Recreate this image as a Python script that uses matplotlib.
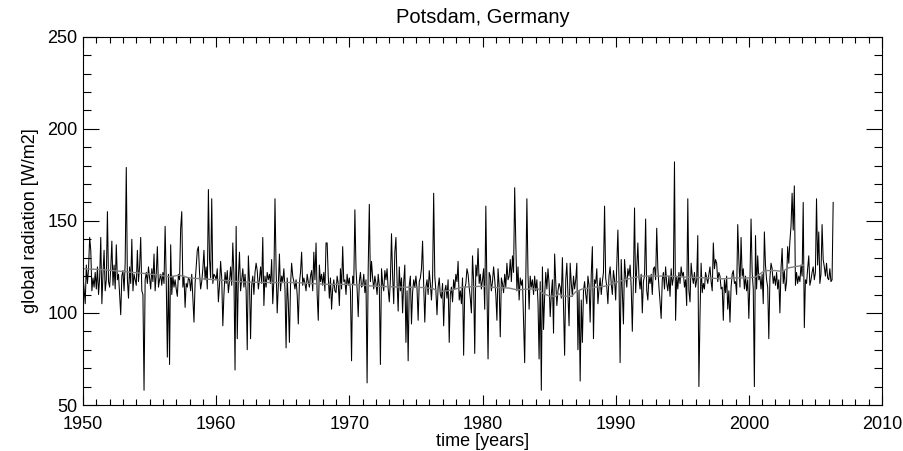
import numpy as np
import matplotlib
matplotlib.use("Agg")
import matplotlib.pyplot as plt
from matplotlib.ticker import MultipleLocator

plt.rcParams['font.family'] = ['Liberation Sans', 'DejaVu Sans']

# monthly global radiation, Potsdam (W/m2), Jan 1950 - May 2006, one row per year
radiation = [
    120, 113, 105, 126, 116, 124, 141, 134, 112, 119, 114, 122,  # 1950
    113, 125, 110, 119, 141, 105, 121, 134, 112, 118, 155, 117,  # 1951
    114, 124, 139, 115, 126, 113, 137, 118, 121, 110, 99, 120,   # 1952
    123, 112, 127, 179, 118, 108, 125, 116, 140, 112, 121, 118,  # 1953
    115, 134, 117, 125, 141, 112, 110, 58, 118, 122, 116, 125,   # 1954
    119, 113, 124, 117, 132, 112, 121, 136, 114, 118, 121, 115,  # 1955
    122, 116, 147, 118, 76, 121, 72, 137, 110, 120, 114, 118,    # 1956
    113, 109, 121, 118, 146, 155, 114, 120, 103, 116, 114, 119,  # 1957
    118, 112, 121, 108, 95, 116, 125, 134, 136, 122, 113, 117,   # 1958
    124, 134, 118, 125, 113, 167, 129, 119, 162, 116, 121, 120,  # 1959
    118, 124, 106, 115, 128, 119, 93, 110, 122, 116, 123, 111,   # 1960
    117, 125, 115, 138, 121, 69, 147, 86, 119, 133, 112, 118,    # 1961
    124, 114, 121, 112, 80, 131, 117, 86, 115, 120, 110, 122,    # 1962
    127, 123, 113, 118, 125, 116, 141, 104, 120, 114, 122, 118,  # 1963
    121, 116, 129, 105, 118, 162, 124, 100, 115, 132, 112, 120,  # 1964
    117, 124, 113, 81, 119, 106, 84, 115, 127, 120, 117, 113,    # 1965
    118, 110, 94, 116, 122, 133, 115, 119, 116, 112, 121, 117,   # 1966
    114, 120, 123, 112, 133, 118, 138, 110, 96, 126, 117, 121,   # 1967
    115, 122, 112, 138, 138, 120, 108, 119, 102, 113, 118, 112,  # 1968
    111, 120, 116, 104, 124, 113, 136, 117, 118, 110, 121, 115,  # 1969
    119, 112, 74, 120, 116, 156, 124, 113, 98, 117, 122, 114,    # 1970
    115, 121, 111, 118, 62, 124, 159, 117, 128, 119, 113, 120,   # 1971
    116, 110, 121, 115, 72, 124, 116, 112, 123, 118, 124, 113,   # 1972
    106, 118, 143, 120, 105, 133, 141, 117, 101, 125, 112, 119,  # 1973
    100, 117, 126, 84, 112, 74, 115, 120, 94, 111, 118, 114,     # 1974
    120, 113, 96, 117, 119, 124, 139, 115, 95, 114, 118, 110,    # 1975
    123, 116, 107, 118, 165, 120, 112, 99, 114, 119, 110, 108,   # 1976
    116, 93, 112, 115, 108, 118, 84, 110, 114, 106, 118, 113,    # 1977
    121, 117, 128, 107, 112, 105, 119, 77, 113, 116, 124, 121,   # 1978
    114, 108, 100, 131, 117, 78, 126, 120, 135, 116, 121, 113,   # 1979
    118, 124, 102, 158, 113, 75, 122, 120, 112, 117, 125, 118,   # 1980
    110, 96, 124, 115, 87, 119, 116, 111, 121, 114, 127, 118,    # 1981
    120, 129, 117, 131, 122, 168, 138, 112, 125, 107, 119, 115,  # 1982
    118, 95, 73, 116, 162, 121, 102, 120, 114, 118, 110, 120,    # 1983
    112, 118, 106, 75, 117, 58, 125, 91, 109, 122, 113, 124,     # 1984
    116, 98, 110, 118, 89, 132, 117, 104, 112, 116, 114, 108,    # 1985
    130, 104, 77, 118, 127, 110, 93, 127, 116, 109, 120, 113,    # 1986
    118, 127, 80, 112, 63, 107, 84, 112, 117, 110, 105, 120,     # 1987
    115, 95, 121, 136, 86, 118, 116, 124, 105, 113, 119, 110,    # 1988
    117, 122, 158, 119, 114, 105, 120, 125, 116, 110, 123, 118,  # 1989
    107, 127, 145, 118, 73, 129, 112, 94, 129, 120, 114, 124,    # 1990
    120, 126, 114, 90, 118, 157, 111, 125, 138, 119, 113, 121,   # 1991
    100, 117, 120, 151, 112, 107, 120, 116, 121, 110, 124, 125,  # 1992
    118, 146, 124, 114, 106, 97, 118, 122, 113, 125, 116, 112,   # 1993
    120, 109, 124, 115, 119, 182, 96, 120, 113, 122, 116, 125,   # 1994
    120, 122, 114, 118, 104, 162, 112, 106, 127, 120, 116, 122,  # 1995
    114, 118, 142, 60, 99, 127, 111, 116, 113, 122, 119, 116,    # 1996
    121, 125, 117, 112, 138, 124, 129, 127, 117, 122, 120, 113,  # 1997
    114, 96, 118, 111, 120, 102, 112, 95, 114, 121, 123, 116,    # 1998
    117, 110, 148, 129, 114, 141, 120, 124, 113, 120, 112, 118,  # 1999
    97, 118, 151, 122, 113, 60, 142, 113, 131, 118, 120, 113,    # 2000
    121, 105, 144, 126, 118, 114, 86, 119, 127, 124, 116, 120,   # 2001
    115, 122, 113, 118, 100, 124, 135, 116, 123, 112, 117, 136,  # 2002
    127, 139, 147, 165, 145, 169, 115, 122, 116, 120, 117, 126,  # 2003
    120, 160, 92, 118, 116, 124, 131, 115, 118, 122, 125, 118,   # 2004
    122, 162, 126, 144, 116, 121, 148, 129, 125, 120, 127, 119,  # 2005
    118, 124, 117, 118, 160,                                     # 2006
]

# smoothed curve (grey), read at its turning points
smooth_years = [1950.0, 1951.5, 1953.0, 1954.5, 1955.8, 1956.5, 1957.2, 1958.0,
                1959.0, 1960.0, 1961.0, 1962.0, 1964.0, 1966.0, 1967.0, 1968.5,
                1970.0, 1971.0, 1972.0, 1974.0, 1975.5, 1976.3, 1976.6, 1977.2,
                1977.8, 1978.5, 1980.0, 1981.0, 1982.0, 1982.6, 1983.5, 1984.2,
                1984.5, 1985.0, 1985.5, 1985.7, 1986.0, 1986.7, 1987.0, 1987.5,
                1988.5, 1989.2, 1990.2, 1991.2, 1992.0, 1994.0, 1995.0, 1997.0,
                1998.0, 1999.0, 2000.0, 2000.5, 2000.8, 2001.2, 2002.0, 2002.5,
                2003.0, 2003.8, 2004.08]
smooth_values = [124, 123.5, 122.5, 121.5, 120.5, 119.5, 120.5, 119,
                 118.5, 118, 117.5, 116.8, 116.5, 116.5, 116, 115.5,
                 115.5, 115, 114.5, 114, 113.8, 113.2, 111.8, 111.8,
                 112.7, 114, 114.5, 113.8, 113.5, 112.5, 113, 113,
                 110.8, 109.2, 109, 110.5, 109.2, 109, 111.5, 113,
                 114, 114.5, 117, 119, 120, 120, 119.5, 119,
                 118.5, 119, 119, 119.5, 121, 123, 123, 122.5,
                 124.5, 125.5, 126]

months = 1950 + np.arange(len(radiation)) / 12.0

fig = plt.figure(figsize=(9.04, 4.51), dpi=100)
ax = fig.add_axes([83 / 904, 1 - 405 / 451, (882 - 83) / 904, (405 - 36.7) / 451])

ax.plot(months, radiation, color='black', linewidth=0.75)
ax.plot(smooth_years, smooth_values, color='#808080', linewidth=1.0)

ax.set_xlim(1950, 2010)
ax.set_ylim(50, 250)
ax.xaxis.set_major_locator(MultipleLocator(10))
ax.xaxis.set_minor_locator(MultipleLocator(1))
ax.yaxis.set_major_locator(MultipleLocator(50))
ax.yaxis.set_minor_locator(MultipleLocator(10))

ax.tick_params(which='both', direction='in', top=True, right=True, width=0.8,
               labelsize=13, colors='black')
ax.tick_params(axis='x', which='major', length=7.5, pad=8)
ax.tick_params(axis='x', which='minor', length=4.2)
ax.tick_params(axis='y', which='major', length=11.5, pad=4)
ax.tick_params(axis='y', which='minor', length=5.8)
for s in ax.spines.values():
    s.set_linewidth(0.8)

ax.set_title('Potsdam, Germany', fontsize=14.5, pad=10)
ax.set_xlabel('time [years]', fontsize=13, labelpad=0)
ax.set_ylabel('global radiation [W/m2]', fontsize=13, labelpad=6)

fig.savefig('out.png', dpi=100)
